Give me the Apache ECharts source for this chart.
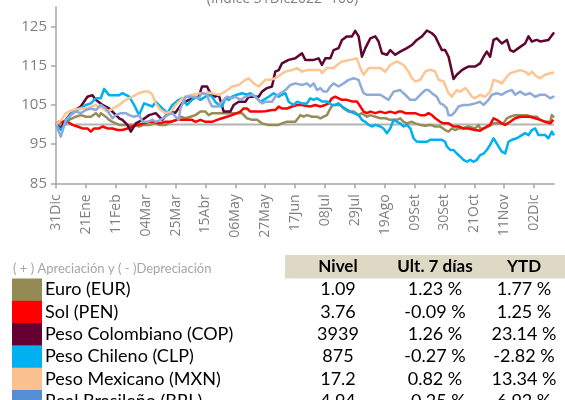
<!DOCTYPE html>
<html>
<head>
<meta charset="utf-8">
<script src="https://cdn.jsdelivr.net/npm/echarts@6/dist/echarts.min.js"></script>
<style>
  html, body { margin: 0; padding: 0; background: #fff; }
  #chart { width: 565px; height: 400px; }
</style>
</head>
<body>
<div id="chart"></div>
<script>
// eje x: dias desde 31Dic2022, etiqueta cada 21 dias
const etiquetasX = ["31Dic","21Ene","11Feb","04Mar","25Mar","15Abr","06May","27May","17Jun",
  "08Jul","29Jul","19Ago","09Set","30Set","21Oct","11Nov","02Dic"];
const diasEtiqueta = etiquetasX.map((_, i) => i * 21);
const yTicks = [85, 95, 105, 115, 125];

// series [dia, indice]
const eur = [[0,100],[2.2,99.9],[5.7,100.7],[9.2,101.2],[13.9,102],[17.4,102.4],[21,102],[24.5,102],[28,102.9],[30.3,102],
  [31.5,102.9],[35,102],[37.3,101.2],[39.7,100.7],[44.4,99.9],[47.9,99.9],[51.4,99.9],[54.9,99.9],[58.4,99.5],[61.9,99.9],
  [65.4,99.9],[69.5,100.3],[72.5,99.9],[77.1,99.9],[80.7,100.7],[84.2,101.2],[87.4,102],[91,101.6],[94.5,102],[98,102.4],
  [101.5,103.3],[105,103.3],[107.3,102.4],[109.7,102.9],[119,102.9],[128.4,102.9],[130.7,102.9],[134.2,101.6],[137.8,101.2],[141.3,101.2],
  [144.8,100.3],[149.5,99.9],[156.5,99.9],[158.8,100.3],[162.3,100.7],[168.2,100.7],[171.7,102.4],[174.1,102],[176.4,102.4],[179.9,102],
  [183.4,102],[185.8,101.6],[188.1,102],[190.4,102.4],[192.8,104.1],[194.5,105],[199.8,105],[202.1,104.1],[205.7,103.3],[209.2,103.3],
  [212.7,102.4],[215,102.9],[218.5,102],[220.9,102.4],[224.4,102],[227.9,101.6],[231.4,101.6],[234.9,101.2],[239.6,101.2],[241.9,101.6],
  [244.3,100.7],[246.6,100.3],[250.1,100.7],[252.5,100.3],[256,99.9],[259.5,99.7],[263,99.9],[266.5,99.5],[270,99.5],[273.5,98.6],
  [275.9,98.2],[278.2,99],[280.6,98.6],[282.9,99],[285.3,99],[289.9,99.5],[294.6,99],[297,99.9],[298.1,99],[300.5,99],
  [304,99.5],[307.5,100.3],[314.5,100.3],[316.9,101.6],[319.2,102],[322.7,102.4],[330.9,102.4],[334.4,102],[337.9,102],[340.3,101.2],
  [343.8,100.7],[347.3,100.7],[348.5,102.4],[350,101.8]];
const pen = [[0,100],[2.2,100.7],[5.7,100.8],[8.1,100.7],[11.6,99.9],[15.1,99.5],[18.6,99],[22.1,99],[24.5,98.2],[26.8,99],
  [30.3,99],[32.7,99.5],[36.2,99],[39.7,99],[43.2,98.6],[46.7,98.6],[50.2,99],[53.7,99.5],[57.2,99.9],[61.9,100.3],
  [65.4,100.7],[68.9,100.7],[72.5,100.3],[77.1,100.7],[80.7,100.7],[85.3,101.2],[91,101.2],[95.6,101.2],[98,100.7],[101.5,101.2],
  [105,100.7],[109.7,100.7],[113.2,101.2],[116.7,101.6],[120.2,102],[123.7,102.4],[127.2,102.9],[129.6,103.3],[131.9,104.1],[134.2,104.1],
  [136.6,103.3],[143.6,103.3],[147.1,103.4],[151.8,103.7],[154.1,103.7],[156.5,104.6],[158.8,104.1],[162.3,104.1],[165.9,104.6],[169.4,105],
  [172.9,105],[175.2,104.8],[178.7,104.6],[182.2,105],[185.8,104.6],[189.3,105],[191.6,105.4],[193.9,106.7],[196.3,107.1],[198.6,106.7],
  [201,106.3],[204.5,106.3],[208,105.9],[211.5,105.9],[213.9,104.6],[216.2,103.3],[218.5,102.9],[220.9,103.3],[224.4,102.9],[227.9,103.3],
  [231.4,102.9],[234.9,103.3],[238.4,102.9],[240.8,103.3],[243.1,103.3],[245.4,102.9],[252.5,102.9],[256,102.4],[259.5,102.4],[261.8,102.9],
  [264.2,102.4],[266.5,101.6],[270,100.7],[272.4,100.3],[275.9,100.3],[279.4,99.5],[282.9,99.5],[286.4,99],[289.9,99],[294.6,98.6],
  [298.1,98.4],[302.8,99.5],[305.1,99.9],[307.5,101.6],[309.8,101.2],[313.3,100.3],[315.7,99.9],[319.2,100.7],[322.7,101.6],[326.2,102],
  [333.2,102],[336.8,101.6],[340.3,101.2],[343.8,100.7],[347.3,100.3],[349.6,101.2],[350,101.25]];
const cop = [[0,100],[3.4,99],[6.9,101.2],[11.6,103.3],[17.4,104.6],[22.1,107.1],[25.6,107.5],[28,106.3],[32.7,105],[37.3,104.1],
  [44.4,101.6],[46.7,101.2],[50.2,99.9],[52.6,98.2],[56.1,100.3],[60.8,101.2],[65.4,102.4],[70.1,102.9],[74.8,101.2],[79.5,103.3],
  [83.9,103],[88.6,105.4],[93.3,106.3],[100.3,107.1],[102.6,109.7],[106.2,109.7],[107.3,108.8],[109.7,107.5],[112,107.1],[114.4,107.5],
  [117.9,103.3],[122.5,103.3],[124.9,105],[128.4,105.8],[133.1,105.8],[135.4,107.1],[142.4,107.1],[144.8,108.4],[148.3,109.3],[151.8,109.7],
  [154.1,113.5],[156.5,113.9],[158.8,115.6],[163.5,116.5],[168.2,116.9],[172.9,118.2],[175.2,116.5],[176.4,116.9],[181.1,116.5],[184.6,116.9],
  [186.9,115.2],[189.3,116.9],[192.8,116.9],[195.1,119],[198.6,119.5],[201,121.6],[204.5,122.5],[208,122.5],[210.3,123.9],[212.7,122.5],
  [215,117.3],[217.4,119.5],[220.9,122],[224.4,122.5],[226.7,121.2],[229.1,118.2],[232.6,117.8],[234.9,119],[238.4,117.8],[241.9,118.6],
  [246.6,119.5],[250.1,120.3],[253.6,121.6],[257.2,122.5],[260.7,124],[264.2,123.3],[266.5,122.5],[268.9,120.7],[271.2,119],[273.5,119],
  [275.9,117.3],[277.7,114.4],[279.4,111.6],[281.7,112.7],[285.3,113.9],[287.6,114.4],[289.9,114.8],[294.6,114.8],[298.1,115.6],[300.5,117.3],
  [302.8,118.6],[305.1,117.3],[307.5,121.6],[309.8,122],[313.3,120.7],[316.9,121.6],[319.2,119],[321.5,118.6],[325,119.5],[329.7,120.7],
  [332.1,122.5],[334.4,121.2],[337.9,121.6],[340.3,121.2],[346.1,121.6],[349.6,123.3],[350,123.1]];
const clp = [[0,100],[3.4,98.6],[6.9,100.3],[11.6,103.3],[15.1,103.7],[21,105],[24.5,105.4],[28,106.7],[31.5,106.7],[33.8,109.1],
  [37.3,107.5],[44.4,107.5],[46.7,108],[51.4,107.1],[54.9,105],[58.4,102.4],[61.9,105.4],[67.8,104.6],[70.1,105.8],[74.8,104.1],
  [78.3,102.9],[81.8,105],[86.3,106.3],[88.6,106.7],[92.1,105],[95.6,106.3],[98,107.1],[101.5,106.3],[105,107.1],[107.3,107.6],
  [109.7,107.1],[112,105.8],[114.4,105],[116.7,104.6],[119,106.7],[121.4,106.3],[123.7,107.1],[127.2,107.6],[130.7,108],[134.2,107.6],
  [136.6,108],[140.1,107.1],[143.6,105.8],[145.9,106.3],[149.5,107.1],[153,108],[156.5,107.1],[158.8,107.6],[161.2,108],[163.5,105.8],
  [167,105],[169.4,105.8],[172.9,105.4],[174.1,105.9],[176.4,105.4],[178.7,106.7],[181.1,106.3],[183.4,106.7],[186.9,105.9],[190.4,105.9],
  [193.9,105],[196.3,105],[198.6,105.4],[201,104.6],[203.3,104.1],[206.8,103.3],[209.2,102.9],[212.7,102.4],[215,101.2],[217.4,100.7],
  [219.7,99.9],[222,99.5],[224.4,99.9],[227.9,99.5],[230.2,99],[232.6,97.8],[234.9,99],[237.3,101.2],[239.6,100.7],[241.9,100.3],
  [244.3,99.5],[246.6,99.9],[249,99],[251.3,96.5],[253.6,95.6],[257.2,95.6],[260.7,95.6],[263,96.1],[267.7,96.1],[271.2,96.1],
  [273.5,95.6],[274.7,94.4],[277.1,93.5],[279.4,93.5],[281.7,92.6],[284.1,91.8],[286.4,91],[288.8,90.5],[291.1,91],[293.4,90.5],
  [295.8,91],[298.1,92.2],[300.5,92.6],[302.8,93.5],[305.1,94.8],[307.5,96.5],[308.7,96.9],[311,94.4],[313.3,93.1],[315.7,92.6],
  [318,95.6],[320.4,96.1],[323.9,96.5],[327.4,97.3],[329.7,97.8],[332.1,97.3],[334.4,98.6],[336.8,99],[339.1,97.3],[343.8,97.3],
  [346.1,96.5],[348.5,98.2],[350,97.2]];
const mxn = [[0,100],[3.4,101],[6.9,102.9],[11.6,103.7],[17.4,104.1],[21,104.1],[28,105],[32.7,104.1],[36.2,103.3],[44.4,105],
  [49,106.3],[53.7,107.1],[58.4,108],[61.9,108.4],[65.4,108.4],[67.8,107.6],[70.1,105.4],[73.6,103.7],[77.1,102.9],[80.7,103.3],
  [84.2,105],[87.7,106.3],[91,107.1],[95.6,107.6],[100.3,107.9],[107.3,108.2],[109.7,108],[114.4,107.6],[119,108.4],[123.7,109.7],
  [128.4,110.1],[133.1,111.4],[135.4,111.8],[138.9,110.5],[142.4,109.7],[144.8,110.5],[147.1,111.4],[150.6,111.4],[154.1,111.8],[157.7,112.7],
  [161.2,113.5],[165.9,113.9],[169.4,114.4],[172.9,113.5],[176.4,113.9],[181.1,113.9],[185.8,113.9],[186.9,113.1],[190.4,114.4],[195.1,114.4],
  [197.5,115.2],[201,116.1],[206.8,116.5],[211.5,116.9],[213.9,114.4],[216.2,112.7],[219.7,114.4],[227.9,114.4],[231.4,113.5],[234.9,115.2],
  [239.6,116.1],[244.3,115.2],[247.8,113.5],[250.1,111.8],[252.5,111],[256,111.4],[259.5,113.5],[261.8,113.9],[264.2,113.9],[266.5,113.5],
  [268.9,111.4],[272.4,111],[275.9,108],[278.2,107.1],[281.7,108.8],[284.1,108.4],[287.6,109.3],[289.9,108.4],[292.3,107.1],[294.6,106.7],
  [298.1,107.6],[301.6,107.1],[305.1,108.4],[307.5,111.4],[311,111],[313.3,110.5],[316.9,112.2],[319.2,113.1],[322.7,113.5],[326.2,113.9],
  [329.7,113.5],[332.1,112.7],[334.4,113.5],[337.9,112.2],[340.3,111.8],[343.8,112.7],[347.3,113.1],[350,113.3]];
const brl = [[0,100],[3.4,96.9],[6.9,101.2],[10.4,102.4],[13.9,103.3],[17.4,102.9],[21,103.7],[24.5,104.1],[28,103.7],[31.5,105],
  [35,104.1],[37.3,102.9],[39.7,101.6],[42,102.4],[45.5,102.9],[49,102.9],[51.4,102.4],[54.9,102],[58.4,102.4],[60.8,100.7],
  [64.3,100.7],[67.8,101.2],[70.1,100.7],[73.6,101.2],[78.3,102.4],[81.8,102.9],[84,102],[86.3,101.2],[87.4,104.1],[88.6,105],
  [91,107.1],[96.8,107.1],[100.3,106.7],[102.6,108],[106.2,107.6],[107.3,106.3],[109.7,104.6],[114.4,104.6],[116.7,105.8],[120.2,107.1],
  [123.7,106.7],[126,107.1],[129.6,106.3],[133.1,107.1],[137.8,107.6],[141.3,106.7],[144.8,105.4],[147.1,105.8],[151.8,105.8],[154.1,107.1],
  [157.7,108],[161.2,108.8],[164.7,110.1],[168.2,110.5],[172.9,110.1],[176.4,110.5],[178.7,109.7],[181.1,110.5],[183.4,108.8],[185.8,109.3],
  [188.1,108.4],[190.4,108.4],[192.8,109.7],[195.1,110.5],[198.6,109.7],[202.1,110.5],[205.7,111.4],[209.2,111.8],[212.7,111.4],[213.9,110.1],
  [216.2,108],[218.5,107.6],[227.9,107.6],[230.2,107.1],[233.7,106.3],[237.3,108.4],[241.9,108.8],[245.4,107.6],[249,106.3],[252.5,106.3],
  [256,107.6],[259.5,108.8],[261.8,108.8],[264.2,108],[267.7,107.1],[270,105.4],[272.4,105],[274.7,104.1],[275.9,102.4],[278.2,102.4],
  [280.6,103.3],[282.9,104.6],[286.4,105],[289.9,105],[294.6,105.4],[298.1,105.8],[300.5,105],[304,106.3],[306.3,107.6],[309.8,108],
  [313.3,107.6],[316.9,108.4],[320.4,108.8],[322.7,107.6],[326.2,108.4],[329.7,107.6],[333.2,108],[336.8,107.1],[340.3,107.6],[343.8,107.6],
  [347.3,106.7],[349.6,107.1],[350,106.9]];
const base100 = [[0,100],[350,100]];

// tabla
const monedas = ["Euro (EUR)", "Sol (PEN)", "Peso Colombiano (COP)", "Peso Chileno (CLP)", "Peso Mexicano (MXN)", "Real Brasileño (BRL)"];
const nivel = ["1.09", "3.76", "3939", "875", "17.2", "4.94"];
const ult7 = ["1.23 %", "-0.09 %", "1.26 %", "-0.27 %", "0.82 %", "-0.25 %"];
const ytd = ["1.77 %", "1.25 %", "23.14 %", "-2.82 %", "13.34 %", "6.92 %"];
const encabezados = ["Nivel", "Ult. 7 días", "YTD"];

const datos = [eur, pen, cop, clp, mxn, brl];
const lineColors = ["#968c56", "#ff0000", "#5e0532", "#00b0f0", "#fcc592", "#8eaad9"];
const boxColors = ["#948a54", "#ff0000", "#660033", "#00b0f0", "#fac090", "#558ed5"];

const chart = echarts.init(document.getElementById("chart"), null, { renderer: "canvas" });

const series = datos.map((d, i) => ({
  name: monedas[i],
  type: "line",
  data: d,
  symbol: "none",
  lineStyle: { width: 2.5, color: lineColors[i], join: "round" },
  itemStyle: { color: lineColors[i] },
  z: 3 + i
}));
series.unshift({
  type: "line",
  data: base100,
  symbol: "none",
  lineStyle: { width: 2, color: "#b4b4b4" },
  z: 2,
  silent: true
});

const rowH = 22.3, top0 = 278.5;
const cols = [338, 435, 524];
const txtFont = "Lato";
const graphic = [
  {
    type: "text", left: "center", top: -8,
    style: { text: "(Índice 31Dic2022=100)", font: "14px 'Open Sans'", fill: "#808080" }
  },
  {
    type: "text", x: 13, y: 268.5,
    style: { text: "( + ) Apreciación y ( - )Depreciación", font: "13px " + txtFont, fill: "#a6a6a6", verticalAlign: "middle" }
  },
  { type: "rect", shape: { x: 285, y: 255, width: 280, height: 23.5 }, style: { fill: "#ddd9c4" } }
];
encabezados.forEach((h, j) => {
  graphic.push({
    type: "text", x: cols[j], y: 267,
    style: { text: h, font: "bold 17px " + txtFont, fill: "#000", align: "center", verticalAlign: "middle" }
  });
});
monedas.forEach((m, i) => {
  const cy = top0 + rowH * i + rowH / 2;
  graphic.push({ type: "rect", shape: { x: 12, y: top0 + rowH * i, width: 30, height: rowH + 0.5 }, style: { fill: boxColors[i] } });
  graphic.push({ type: "text", x: 45, y: cy, style: { text: m, font: "18px " + txtFont, fill: "#000", verticalAlign: "middle" } });
  [nivel[i], ult7[i], ytd[i]].forEach((v, j) => {
    graphic.push({ type: "text", x: cols[j], y: cy, style: { text: v, font: "18px " + txtFont, fill: "#000", align: "center", verticalAlign: "middle" } });
  });
});

chart.setOption({
  animation: false,
  backgroundColor: "#fff",
  grid: { left: 56, right: 11, top: 7, bottom: 216.7, containLabel: false },
  xAxis: {
    type: "value",
    min: 0,
    max: 350,
    interval: 21,
    axisLine: { lineStyle: { color: "#a6a6a6", width: 1.5 } },
    axisTick: { length: 5, customValues: diasEtiqueta, lineStyle: { color: "#a6a6a6", width: 1.5 } },
    axisLabel: {
      customValues: diasEtiqueta,
      formatter: v => etiquetasX[Math.round(v / 21)],
      rotate: 90, margin: 11, fontSize: 14, color: "#7f7f7f", fontFamily: "Open Sans"
    },
    splitLine: { show: false }
  },
  yAxis: {
    type: "value",
    min: 85,
    max: 130,
    interval: 10,
    axisLine: { show: true, lineStyle: { color: "#a6a6a6", width: 1.5 } },
    axisTick: { show: true, length: 5, customValues: yTicks, lineStyle: { color: "#a6a6a6", width: 1.5 } },
    axisLabel: { customValues: yTicks, fontSize: 15, color: "#7f7f7f", margin: 9, fontFamily: "Open Sans" },
    splitLine: { show: false }
  },
  series: series,
  graphic: graphic
});
</script>
</body>
</html>
